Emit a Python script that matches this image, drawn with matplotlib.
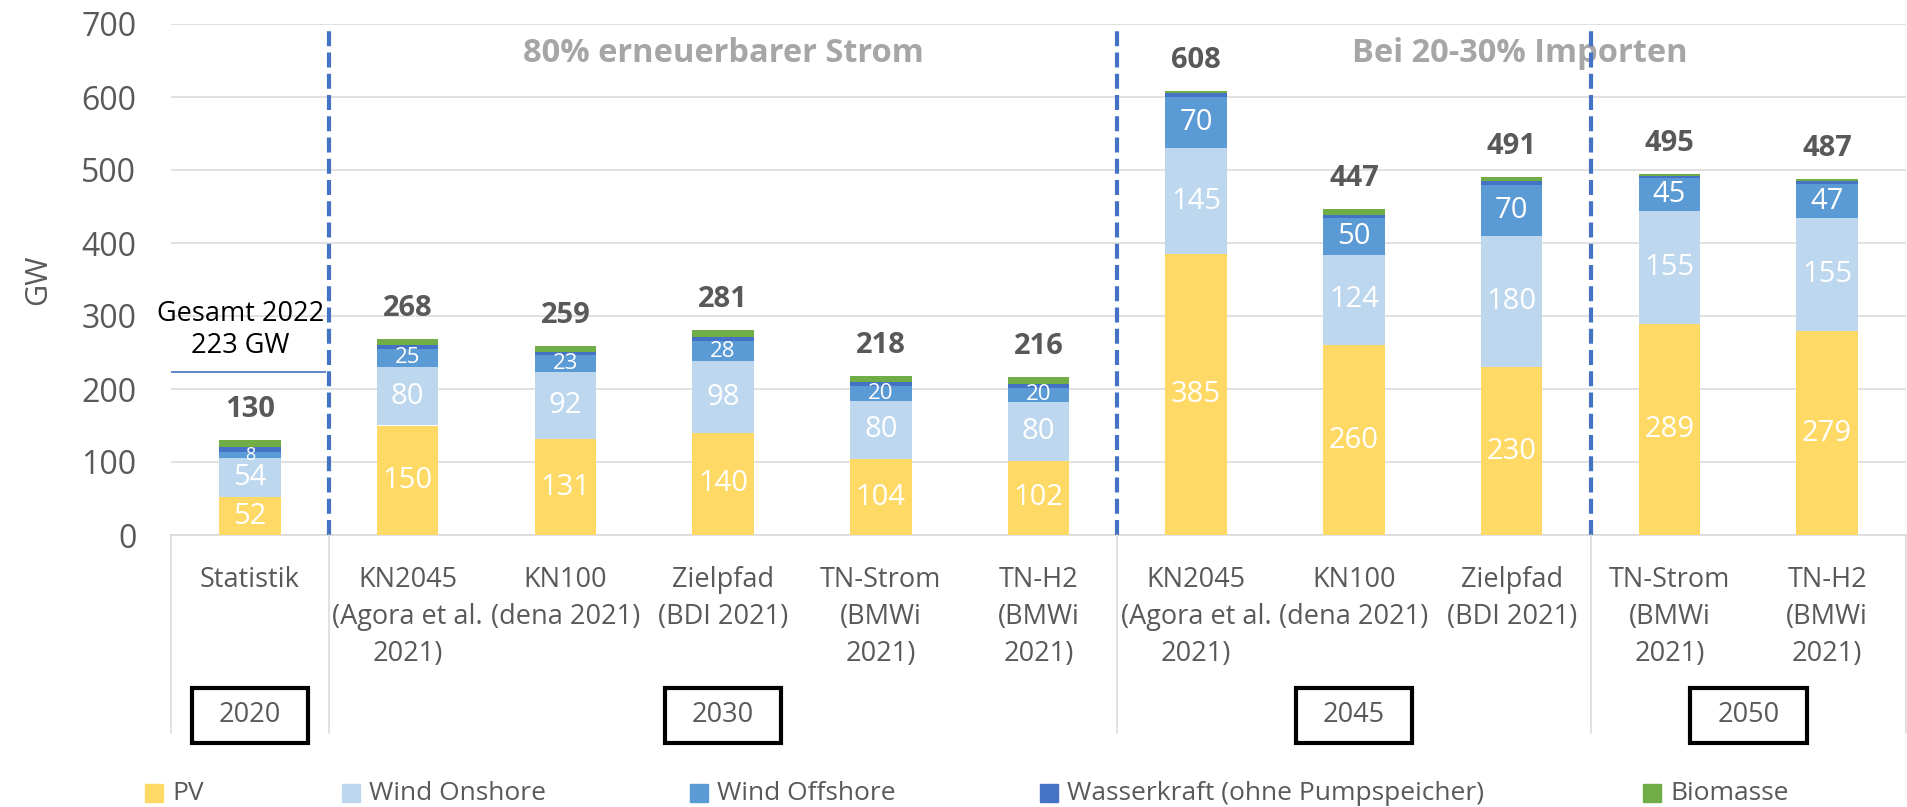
import matplotlib
matplotlib.use("Agg")
import matplotlib.pyplot as plt
from matplotlib.patches import Rectangle
from matplotlib.lines import Line2D
from matplotlib.transforms import blended_transform_factory

plt.rcParams["font.family"] = ["Open Sans", "DejaVu Sans"]

# --- data (GW installed capacity) ---
categories = [
    "Statistik",
    "KN2045\n(Agora et al.\n2021)", "KN100\n(dena 2021)", "Zielpfad\n(BDI 2021)",
    "TN-Strom\n(BMWi\n2021)", "TN-H2\n(BMWi\n2021)",
    "KN2045\n(Agora et al.\n2021)", "KN100\n(dena 2021)", "Zielpfad\n(BDI 2021)",
    "TN-Strom\n(BMWi\n2021)", "TN-H2\n(BMWi\n2021)",
]
pv = [52, 150, 131, 140, 104, 102, 385, 260, 230, 289, 279]
wind_on = [54, 80, 92, 98, 80, 80, 145, 124, 180, 155, 155]
wind_off = [8, 25, 23, 28, 20, 20, 70, 50, 70, 45, 47]
wasser = [6, 5, 5, 5, 5, 5, 5, 5, 5, 3, 4]
biomasse = [10, 8, 8, 10, 9, 9, 3, 8, 6, 3, 2]
totals = [130, 268, 259, 281, 218, 216, 608, 447, 491, 495, 487]

years = ["2020", "2030", "2045", "2050"]
year_groups = [(0, 0), (1, 5), (6, 8), (9, 10)]
notes = ["80% erneuerbarer Strom", "Bei 20-30% Importen"]
gesamt_2022 = 223

series = [
    ("PV", pv, "#FFD966", True),
    ("Wind Onshore", wind_on, "#BDD7EE", True),
    ("Wind Offshore", wind_off, "#5B9BD5", True),
    ("Wasserkraft (ohne Pumpspeicher)", wasser, "#4472C4", False),
    ("Biomasse", biomasse, "#70AD47", False),
]

W, H = 1907, 807
GREY = "#595959"
GRID = "#D9D9D9"


def fy(px):
    return 1 - px / H


fig = plt.figure(figsize=(W / 100, H / 100), dpi=100)
ax = fig.add_axes([171 / W, fy(535), 1735 / W, (535 - 24) / H])

x = list(range(len(categories)))
bottom = [0] * len(x)
for name, vals, color, labelled in series:
    ax.bar(x, vals, 0.39, bottom=bottom, color=color, label=name, zorder=3)
    if labelled:
        for i, v in enumerate(vals):
            fs = 13 if v < 10 else (16 if v < 30 else 21)
            ax.text(i, bottom[i] + v / 2, str(v), ha="center", va="center",
                    color="white", fontsize=fs, zorder=4)
    bottom = [b + v for b, v in zip(bottom, vals)]

for i, t in enumerate(totals):
    ax.annotate(str(t), (i, t), xytext=(0, 22), textcoords="offset points",
                ha="center", va="center", fontsize=21, fontweight="bold",
                color=GREY)

ax.set_xlim(-0.5, len(x) - 0.5)
ax.set_ylim(0, 700)
ax.set_yticks(range(0, 701, 100))
ax.yaxis.grid(True, color=GRID, lw=1.1, zorder=0)
ax.set_axisbelow(True)
for s in ["top", "right", "left"]:
    ax.spines[s].set_visible(False)
ax.spines["bottom"].set_color(GRID)
ax.spines["bottom"].set_linewidth(1.1)
ax.tick_params(axis="y", length=0, pad=25, labelsize=23, labelcolor=GREY)
ax.set_xticks(x, categories)
ax.tick_params(axis="x", length=0, pad=22, labelsize=19.5, labelcolor=GREY)
for lbl in ax.get_xticklabels():
    lbl.set_linespacing(1.45)
ax.set_ylabel("GW", fontsize=22, color=GREY, labelpad=20)

# group separators
trans = blended_transform_factory(ax.transData, fig.transFigure)
bounds = [g[0] - 0.5 for g in year_groups] + [len(x) - 0.5]
for b in bounds:
    fig.add_artist(Line2D([b, b], [fy(535), fy(733)], transform=trans,
                          color=GRID, lw=1.1))
for b in bounds[1:-1]:
    ax.plot([b, b], [0, 693], color="#4472C4", lw=3, dashes=(3.6, 1.5),
            zorder=5, clip_on=False)

# year boxes
for (a, b), yr in zip(year_groups, years):
    c = (a + b) / 2
    fig.add_artist(Rectangle((c - 0.37, fy(743)), 0.74, 55 / H, transform=trans,
                             fill=False, edgecolor="black", lw=3))
    fig.text(c, fy(715), yr, transform=trans, ha="center", va="center",
             fontsize=19.5, color=GREY)

# annotations
ax.hlines(gesamt_2022, -0.5, 0.48, color="#4472C4", lw=1.2, zorder=5)
ax.text(-0.06, 281, "Gesamt 2022\n223 GW", ha="center", va="center",
        fontsize=19.5, color="black", linespacing=1.2, zorder=6)
ax.text(3, 660, notes[0], ha="center", va="center", fontsize=23.5,
        fontweight="bold", color="#A6A6A6")
ax.text(8.05, 660, notes[1], ha="center", va="center", fontsize=23.5,
        fontweight="bold", color="#A6A6A6")

# legend
legend_x = [145, 342, 690, 1040, 1643]
for lx, (name, vals, color, _) in zip(legend_x, series):
    fig.add_artist(Rectangle((lx / W, fy(802)), 18 / W, 18 / H,
                             transform=fig.transFigure, color=color))
    fig.text((lx + 27) / W, fy(793), name, ha="left", va="center",
             fontsize=19, color=GREY)

fig.savefig("out.png", dpi=100)
